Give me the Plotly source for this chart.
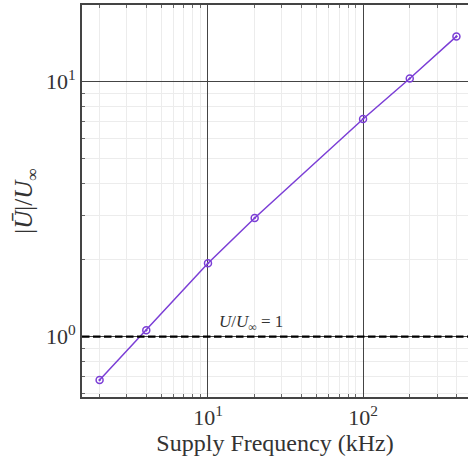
import plotly.graph_objects as go
import numpy as np

freq_khz = [2, 4, 10, 20, 100, 200, 400]
u_ratio = [0.676, 1.06, 1.94, 2.92, 7.14, 10.3, 15.06]
x_major = [10, 100]
x_major_text = ["10<sup>1</sup>", "10<sup>2</sup>"]
y_major = [1, 10]
y_major_text = ["10<sup>0</sup>", "10<sup>1</sup>"]

minor_vals = [m * 10.0 ** d for d in range(-1, 3) for m in range(2, 10)]

font_family = "Liberation Serif"
fig = go.Figure()
fig.add_trace(go.Scatter(
    x=freq_khz, y=u_ratio, mode="lines+markers",
    line=dict(color="#7b3ed6", width=1.5),
    marker=dict(symbol="circle-open-dot", size=7, color="#7b3ed6", line=dict(width=1.5)),
    showlegend=False, cliponaxis=False,
))
fig.add_hline(y=1, line=dict(color="black", width=2.2, dash="7.5px,3.5px"))
fig.add_annotation(x=np.log10(11.5), y=0, xref="x", yref="y", text="<i>U</i>/<i>U</i><sub>∞</sub> = 1",
                   showarrow=False, xanchor="left", yanchor="bottom", yshift=1,
                   font=dict(family=font_family, size=17, color="#333"))

axis_common = dict(
    type="log", showline=True, linecolor="#444", linewidth=1.6,
    ticks="inside", ticklen=5, tickcolor="#444",
    showgrid=True, gridcolor="#444", gridwidth=1.1,
    tickmode="array", zeroline=False, automargin=False,
    tickfont=dict(family=font_family, size=22, color="#333"),
    minor=dict(tickmode="array", tickvals=minor_vals, ticks="inside", ticklen=3,
               tickcolor="#666", showgrid=True, gridcolor="#ececec", gridwidth=1),
)
fig.update_xaxes(**axis_common, tickvals=x_major, ticktext=x_major_text, mirror="ticks",
                 range=[np.log10(1.54), np.log10(475)],
                 title=dict(text="Supply Frequency (kHz)", font=dict(family=font_family, size=24, color="#333"), standoff=0))
fig.update_yaxes(**axis_common, tickvals=y_major, ticktext=y_major_text, mirror=False,
                 range=[np.log10(0.58), np.log10(20)],
                 title=dict(text="|<i>Ū</i>|/<i>U</i><sub>∞</sub>", font=dict(family=font_family, size=25, color="#333"), standoff=6))
fig.update_layout(width=468, height=459, margin=dict(l=82, r=0, t=5, b=62),
                  plot_bgcolor="white", paper_bgcolor="white")
fig.write_html("out.html", config={"displayModeBar": False},
               post_script="document.body.style.margin='0';document.body.style.overflow='hidden';")
